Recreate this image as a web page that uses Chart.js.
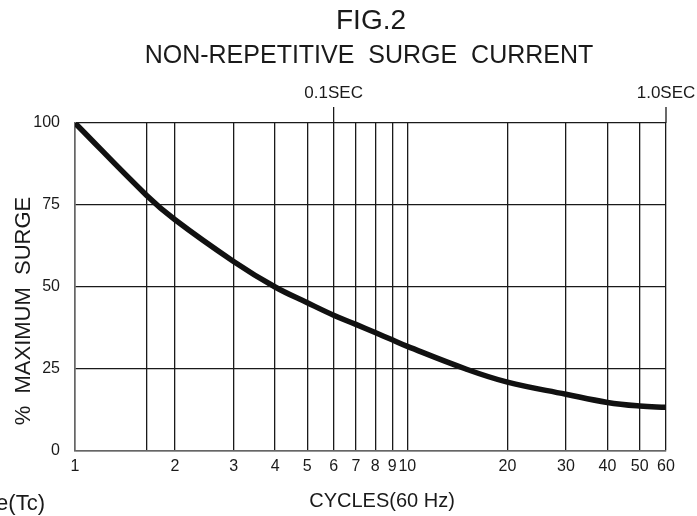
<!DOCTYPE html>
<html>
<head>
<meta charset="utf-8">
<script src="https://cdn.jsdelivr.net/npm/chart.js@4"></script>
<style>
  html, body { margin: 0; padding: 0; background: #fff; }
  #wrap { width: 697px; height: 516px; }
</style>
</head>
<body>
<div id="wrap"><canvas id="surgeChart"></canvas></div>
<script>
// surge curve
let cycles = [1, 1.64, 2, 3, 4, 5, 6, 7, 8, 9, 10, 15, 20, 30, 40, 50, 60];
let surgePct = [100, 78, 70.5, 57.8, 50, 45.2, 41.4, 38.6, 36.1, 33.9, 31.9, 25, 21, 17.3, 14.8, 13.7, 13.3];

let xTicks = [1, 1.64, 2, 3, 4, 5, 6, 7, 8, 9, 10, 20, 30, 40, 50, 60];
let xTickLabels = ['1', '', '2', '3', '4', '5', '6', '7', '8', '9', '10', '20', '30', '40', '50', '60'];
let secMarks = [6, 60];
let secLabels = ['0.1SEC', '1.0SEC'];

const FONT = '"Liberation Sans", Arial, sans-serif';
const INK = '#1a1a1a';

let textPlugin = {
    id: 'figText',
    afterDraw(chart) {
        let ctx = chart.ctx;
        let area = chart.chartArea;
        let xs = chart.scales.x;
        ctx.save();
        ctx.fillStyle = INK;
        ctx.textAlign = 'center';
        ctx.textBaseline = 'middle';
        ctx.font = '28px ' + FONT;
        ctx.fillText('FIG.2', 371, 21);
        ctx.font = '25px ' + FONT;
        ctx.fillText('NON-REPETITIVE  SURGE  CURRENT', 369, 56);

        ctx.font = '17px ' + FONT;
        ctx.strokeStyle = INK;
        ctx.lineWidth = 1.3;
        secMarks.forEach((v, i) => {
            let px = xs.getPixelForValue(v);
            ctx.fillText(secLabels[i], px, 93);
            ctx.beginPath();
            ctx.moveTo(px, 107);
            ctx.lineTo(px, area.top);
            ctx.stroke();
        });

        // axis titles
        ctx.font = '20px ' + FONT;
        ctx.fillText('CYCLES(60 Hz)', 382, 501);
        ctx.save();
        ctx.translate(24, 311);
        ctx.rotate(-Math.PI / 2);
        ctx.font = '22px ' + FONT;
        ctx.fillText('%  MAXIMUM  SURGE', 0, 0);
        ctx.restore();

        ctx.textAlign = 'right';
        ctx.textBaseline = 'alphabetic';
        ctx.font = '22px ' + FONT;
        ctx.fillText('e(Tc)', 45, 510);
        ctx.restore();
    }
};

let surgeCtx = document.getElementById('surgeChart').getContext('2d');

window.surgeLine = new Chart(surgeCtx, {
    type: 'line',
    data: {
        datasets: [{
            label: 'Surge',
            data: cycles.map((c, i) => ({ x: c, y: surgePct[i] })),
            borderColor: '#111',
            borderWidth: 5.5,
            pointRadius: 0,
            fill: false,
            tension: 0.4,
            borderCapStyle: 'butt'
        }]
    },
    options: {
        responsive: true,
        maintainAspectRatio: false,
        animation: false,
        layout: { padding: { left: 0, right: 31, top: 123, bottom: 0 } },
        plugins: { legend: { display: false }, tooltip: { enabled: false } },
        scales: {
            x: {
                type: 'logarithmic',
                min: 1,
                max: 60,
                afterBuildTicks: s => { s.ticks = xTicks.map(v => ({ value: v })); },
                afterFit: s => { s.height = 65; },
                ticks: {
                    autoSkip: false,
                    maxRotation: 0,
                    padding: 6,
                    color: INK,
                    font: { family: FONT, size: 16 },
                    callback: (v, i) => xTickLabels[i]
                },
                grid: { color: INK, lineWidth: 1.3, drawTicks: false },
                border: { color: '#666', width: 1.5 }
            },
            y: {
                min: 0,
                max: 100,
                afterFit: s => { s.width = 75; },
                ticks: {
                    stepSize: 25,
                    padding: 15,
                    color: INK,
                    font: { family: FONT, size: 16 }
                },
                grid: { color: INK, lineWidth: 1.3, drawTicks: false },
                border: { color: '#666', width: 1.5 }
            }
        }
    },
    plugins: [textPlugin]
});
</script>
</body>
</html>
